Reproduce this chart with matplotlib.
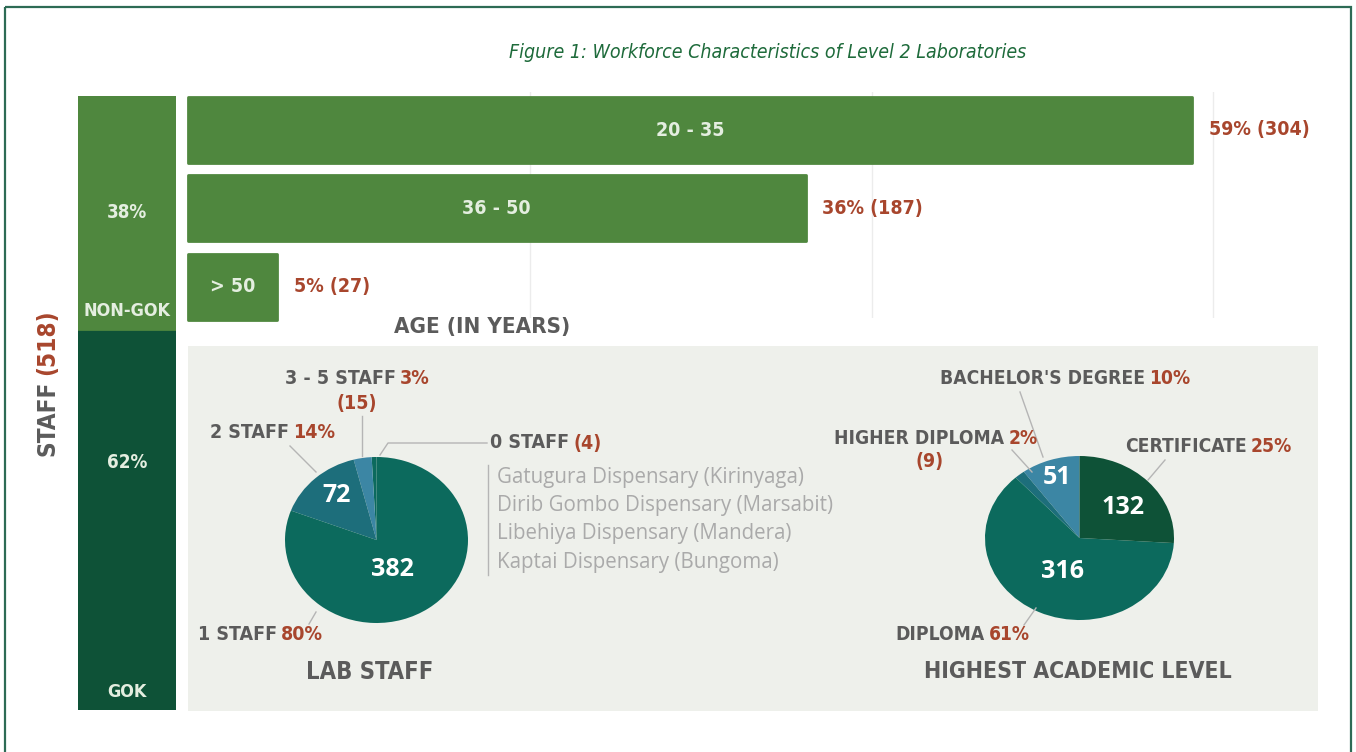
import os
import matplotlib
matplotlib.use("Agg")
import matplotlib.pyplot as plt
from matplotlib import font_manager
from matplotlib.font_manager import FontProperties
import numpy as np

# data
age_groups = ["20 - 35", "36 - 50", "> 50"]
age_counts = [304, 187, 27]
age_pct = [59, 36, 5]

staff_types = ["GOK", "NON-GOK"]
staff_pct = [62, 38]
total_staff = 518

lab_labels = ["0 STAFF", "3 - 5 STAFF", "2 STAFF", "1 STAFF"]
lab_counts = [4, 15, 72, 382]
lab_pct = [None, 3, 14, 80]
zero_staff_sites = ["Gatugura Dispensary (Kirinyaga)",
                    "Dirib Gombo Dispensary (Marsabit)",
                    "Libehiya Dispensary (Mandera)",
                    "Kaptai Dispensary (Bungoma)"]

edu_labels = ["BACHELOR'S DEGREE", "HIGHER DIPLOMA", "DIPLOMA", "CERTIFICATE"]
edu_counts = [51, 9, 316, 132]
edu_pct = [10, 2, 61, 25]

# fonts: condensed DejaVu files if present
files = {os.path.basename(f.fname): f.fname for f in font_manager.fontManager.ttflist}
COND_B = files.get("DejaVuSansCondensed-Bold.ttf")
COND_I = files.get("DejaVuSansCondensed-Oblique.ttf")
BODY = "Open Sans"


def fp(size, italic=False, bold=True, family=None):
    if family is not None:
        return FontProperties(family=family, size=size,
                              weight="bold" if bold else "normal")
    path = COND_I if italic else COND_B
    if path:
        return FontProperties(fname=path, size=size)
    return FontProperties(family="DejaVu Sans", size=size, stretch="condensed",
                          weight="bold" if bold else "normal",
                          style="italic" if italic else "normal")


GRAY = "#5b5b5b"
RED = "#a8462d"
LIGHT_GREEN = "#4f873e"
DARK_GREEN = "#0e5237"
TEAL = "#0c6a5d"
TEAL2 = "#1d6e7b"
BLUE = "#3c86a4"
PANEL = "#eef0eb"
PALE = "#e4eee0"

W, H = 1356, 752
fig = plt.figure(figsize=(W / 100, H / 100), dpi=100)
fig.patch.set_facecolor("white")


def px_axes(x0, y0, x1, y1, z=1):
    return fig.add_axes([x0 / W, 1 - y1 / H, (x1 - x0) / W, (y1 - y0) / H], zorder=z)


# background: frame + grey panel
bg = px_axes(0, 0, W, H, z=0)
bg.set_xlim(0, W)
bg.set_ylim(H, 0)
bg.axis("off")
bg.add_patch(plt.Rectangle((5, 7), 1346, 760, fill=False, ec="#2d6b55", lw=1.6))
bg.add_patch(plt.Rectangle((188, 346), 1130, 365, fc=PANEL, ec="none"))

# text overlay
ov = px_axes(0, 0, W, H, z=5)
ov.set_xlim(0, W)
ov.set_ylim(H, 0)
ov.axis("off")
ov.patch.set_alpha(0)


def txt(x, y, s, size, color=GRAY, ha="center", prop=None):
    return ov.text(x, y, s, color=color, ha=ha, va="center",
                   fontproperties=prop if prop is not None else fp(size))


def two_tone(x, y, a, b, size):
    t = txt(x, y, a, size, ha="left")
    ov.annotate(b, xy=(1, 0), xycoords=t, xytext=(3, 0), textcoords="offset points",
                ha="left", va="bottom", color=RED, fontproperties=fp(size))
    return t


def leader(xs, ys):
    ov.plot(xs, ys, color="#b5b5b5", lw=1)


# title
txt(768, 53, "Figure 1: Workforce Characteristics of Level 2 Laboratories", 14,
    color="#1e6b3b", prop=fp(14, italic=True))

# left stacked staff bar
sb = px_axes(78, 96, 176, 710)
bottoms = np.concatenate([[0], np.cumsum(staff_pct)[:-1]])
cols = [DARK_GREEN, LIGHT_GREEN]
sb.bar([0, 0], staff_pct, bottom=bottoms, width=1, color=cols, edgecolor=cols,
       linewidth=2, joinstyle="round")
sb.set_xlim(-0.5, 0.5)
sb.set_ylim(0, 100)
sb.axis("off")
for name, p, b in zip(staff_types, staff_pct, bottoms):
    pct_y = b + p * 0.65 if name == "GOK" else b + p * 0.5
    sb.text(0, pct_y, f"{p}%", ha="center", va="center", color=PALE,
            fontproperties=fp(13.5))
    sb.text(0, b + 3, name, ha="center", va="center", color=PALE,
            fontproperties=fp(13))

t_staff = ov.text(47, 456, "STAFF", rotation=90, ha="center", va="bottom",
                  color=GRAY, fontproperties=fp(17.5))
ov.annotate(f"({total_staff})", xy=(0, 1), xycoords=t_staff, xytext=(0, 4),
            textcoords="offset points", rotation=90, ha="left", va="bottom",
            color=RED, fontproperties=fp(17.5))

# age bars
scale = (1192 - 188) / age_counts[0]
top, bot, y0, step = 92, 318, 130, 78.3
ab = px_axes(188, top, 1340, bot)
y = np.arange(len(age_groups))
ab.barh(y, age_counts, height=66 / step, color=LIGHT_GREEN, edgecolor=LIGHT_GREEN,
        linewidth=2, joinstyle="round", zorder=2, clip_on=False)
ab.set_xlim(0, (1340 - 188) / scale)
ab.set_ylim((bot - y0) / step, -(y0 - top) / step)
ab.set_xticks(np.arange(1, 4) * 103.5)
ab.grid(axis="x", color="#ececec", lw=1, zorder=0)
ab.tick_params(length=0, labelbottom=False, labelleft=False)
for s in ab.spines.values():
    s.set_visible(False)
ab.set_facecolor("none")
for i, (g, c, p) in enumerate(zip(age_groups, age_counts, age_pct)):
    ab.text(c / 2, i, g, ha="center", va="center", color=PALE,
            fontproperties=fp(14), zorder=3)
    ab.annotate(f"{p}% ({c})", xy=(c, i), xytext=(12, 0), textcoords="offset points",
                ha="left", va="center", color=RED, fontproperties=fp(14))
txt(482, 327, "AGE (IN YEARS)", 16)

# lab staff pie
p1 = px_axes(285, 457, 468, 623, z=2)
p1.pie(lab_counts, colors=[TEAL, BLUE, TEAL2, TEAL], startangle=90,
       counterclock=True, wedgeprops=dict(linewidth=0))
p1.set_aspect("auto")
p1.set_xlim(-1, 1)
p1.set_ylim(-1, 1)
num = fp(18, family=BODY)
txt(337, 496, str(lab_counts[2]), 18, color="white", prop=num)
txt(392, 570, str(lab_counts[3]), 18, color="white", prop=num)

two_tone(285, 379, lab_labels[1], f"{lab_pct[1]}%", 14)
txt(357, 403, f"({lab_counts[1]})", 14, color=RED)
two_tone(210, 432, lab_labels[2], f"{lab_pct[2]}%", 14)
two_tone(490, 443, lab_labels[0], f"({lab_counts[0]})", 14)
two_tone(198, 634, lab_labels[3], f"{lab_pct[3]}%", 14)
site_fp = fp(14.8, bold=False, family=BODY)
for k, site in enumerate(zero_staff_sites):
    txt(497, 477 + k * 28.5, site, 14.8, color="#aaaaaa", ha="left", prop=site_fp)
leader([488, 488], [465, 575])
leader([290, 316], [446, 472])
leader([362, 362], [416, 456])
leader([380, 388, 487], [455, 443, 443])
leader([316, 309], [612, 624])
txt(370, 672, "LAB STAFF", 17)

# academic level pie
p2 = px_axes(985, 456, 1174, 620, z=2)
p2.pie(edu_counts, colors=[BLUE, TEAL2, TEAL, DARK_GREEN], startangle=90,
       counterclock=True, wedgeprops=dict(linewidth=0))
p2.set_aspect("auto")
p2.set_xlim(-1, 1)
p2.set_ylim(-1, 1)
txt(1057, 477, str(edu_counts[0]), 18, color="white", prop=num)
txt(1123, 507, str(edu_counts[3]), 18, color="white", prop=num)
txt(1062, 571, str(edu_counts[2]), 18, color="white", prop=num)

two_tone(940, 379, edu_labels[0], f"{edu_pct[0]}%", 13.8)
two_tone(834, 438, edu_labels[1], f"{edu_pct[1]}%", 13.8)
txt(930, 462, f"({edu_counts[1]})", 14, color=RED)
two_tone(1125, 447, edu_labels[3], f"{edu_pct[3]}%", 13.8)
two_tone(895, 634, edu_labels[2], f"{edu_pct[2]}%", 13.8)
leader([1020, 1043], [392, 457])
leader([1012, 1032], [450, 472])
leader([1165, 1148], [460, 480])
leader([1036, 1024], [608, 625])
txt(1078, 672, "HIGHEST ACADEMIC LEVEL", 16.5)

fig.savefig("out.png", dpi=100)
